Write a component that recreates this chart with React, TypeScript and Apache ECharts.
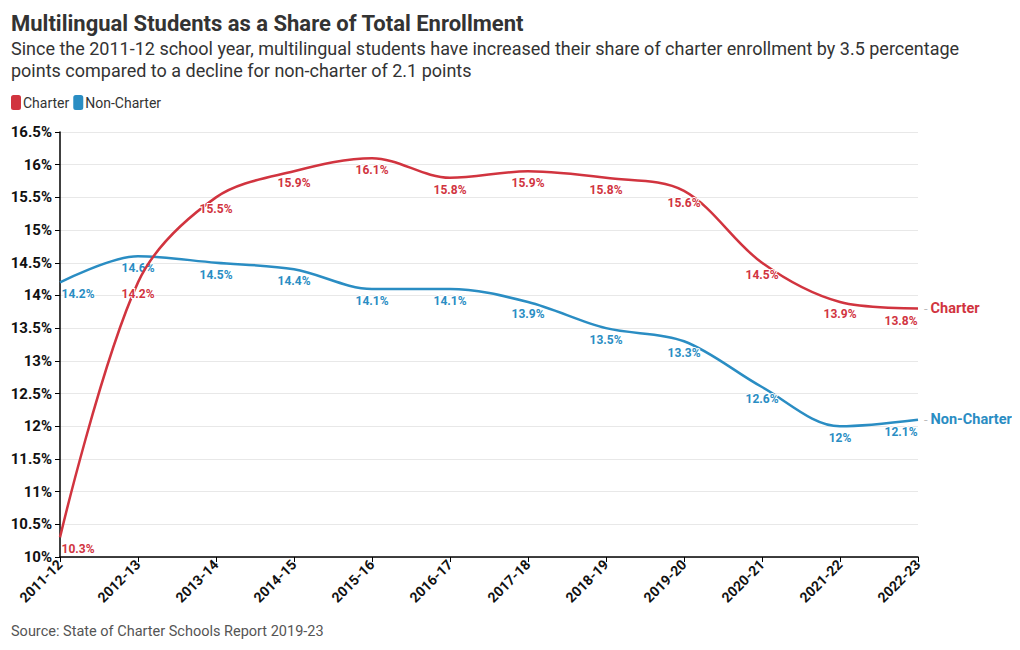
import React, { useEffect, useRef } from "react";
import * as echarts from "echarts";

const categories = ["2011-12", "2012-13", "2013-14", "2014-15", "2015-16", "2016-17", "2017-18", "2018-19", "2019-20", "2020-21", "2021-22", "2022-23"];
const charter = [10.3, 14.2, 15.5, 15.9, 16.1, 15.8, 15.9, 15.8, 15.6, 14.5, 13.9, 13.8];
const nonCharter = [14.2, 14.6, 14.5, 14.4, 14.1, 14.1, 13.9, 13.5, 13.3, 12.6, 12.0, 12.1];

const RED = "#d1343f";
const BLUE = "#2a8dc3";
const FONT = "Roboto";

function mkData(vals: number[]) {
  const last = vals.length - 1;
  return vals.map((v, i) =>
    i === 0
      ? { value: v, label: { offset: [18, 0] } }
      : i === last
      ? { value: v, label: { offset: [-17, 0] } }
      : { value: v }
  );
}

export default function App() {
  const ref = useRef<HTMLDivElement>(null);
  useEffect(() => {
    const chart = echarts.init(ref.current!, null, { renderer: "svg" });
    const lbl = (color: string) => ({
      show: true,
      position: "bottom",
      distance: 6,
      formatter: (p: any) => p.value + "%",
      color,
      fontFamily: FONT,
      fontWeight: "bold",
      fontSize: 12,
      textBorderColor: "#fff",
      textBorderWidth: 2,
    });
    const endLbl = (color: string, name: string) => ({
      show: true,
      distance: 6,
      formatter: "{d|-} {n|" + name + "}",
      rich: {
        d: { color: "#bbb", fontSize: 13, fontFamily: FONT },
        n: { color, fontSize: 14.5, fontWeight: "bold", fontFamily: FONT },
      },
    });
    chart.setOption({
      animation: false,
      textStyle: { fontFamily: FONT },
      title: [
        {
          text: "Multilingual Students as a Share of Total Enrollment",
          left: 11,
          top: 12,
          padding: 0,
          textStyle: { fontFamily: FONT, fontSize: 22, fontWeight: "bold", color: "#333" },
        },
        {
          text: "Since the 2011-12 school year, multilingual students have increased their share of charter enrollment by 3.5 percentage\npoints compared to a decline for non-charter of 2.1 points",
          left: 11,
          top: 37,
          padding: 0,
          textStyle: { fontFamily: FONT, fontSize: 18, fontWeight: "normal", color: "#333", lineHeight: 22 },
        },
        {
          text: "Source: State of Charter Schools Report 2019-23",
          left: 11,
          top: 624,
          padding: 0,
          textStyle: { fontFamily: FONT, fontSize: 14.5, fontWeight: "normal", color: "#555" },
        },
      ],
      legend: {
        left: 11,
        top: 95,
        padding: 0,
        icon: "roundRect",
        itemWidth: 10,
        itemHeight: 15,
        itemGap: 4,
        textStyle: { fontFamily: FONT, fontSize: 14, color: "#333", padding: [0, 0, 0, -3] },
        data: [
          { name: "Charter", itemStyle: { color: RED, opacity: 1 } },
          { name: "Non-Charter", itemStyle: { color: BLUE, opacity: 1 } },
        ],
      },
      grid: { left: 60, right: 102, top: 132, bottom: 93, containLabel: false },
      xAxis: {
        type: "category",
        data: categories,
        boundaryGap: false,
        axisLine: { lineStyle: { color: "#000", width: 1.5 } },
        axisTick: { show: true, alignWithLabel: true, lineStyle: { color: "#000" } },
        axisLabel: {
          rotate: 45,
          interval: 0,
          color: "#111",
          fontFamily: FONT,
          fontWeight: "bold",
          fontSize: 14,
          margin: 5,
        },
      },
      yAxis: {
        type: "value",
        min: 10,
        max: 16.5,
        interval: 0.5,
        axisLine: { show: true, lineStyle: { color: "#000", width: 1.5 } },
        axisTick: { show: true, length: 5, lineStyle: { color: "#000" } },
        splitLine: { lineStyle: { color: "#e8e8e8" } },
        axisLabel: {
          formatter: (v: number) => v + "%",
          color: "#111",
          fontFamily: FONT,
          fontWeight: "bold",
          fontSize: 15,
          margin: 8,
        },
      },
      series: [
        {
          name: "Charter",
          type: "line",
          data: mkData(charter),
          smooth: 0.33,
          showSymbol: true,
          symbol: "circle",
          symbolSize: 0.01,
          itemStyle: { color: RED },
          color: RED,
          lineStyle: { width: 2.5, color: RED },
          label: lbl(RED),
          endLabel: endLbl(RED, "Charter"),
          z: 3,
        },
        {
          name: "Non-Charter",
          type: "line",
          data: mkData(nonCharter),
          smooth: 0.33,
          showSymbol: true,
          symbol: "circle",
          symbolSize: 0.01,
          itemStyle: { color: BLUE },
          color: BLUE,
          lineStyle: { width: 2.5, color: BLUE },
          label: lbl(BLUE),
          endLabel: endLbl(BLUE, "Non-Charter"),
          z: 2,
        },
      ],
    });
    return () => chart.dispose();
  }, []);
  return <div ref={ref} style={{ width: 1020, height: 650, margin: -8 }} />;
}
